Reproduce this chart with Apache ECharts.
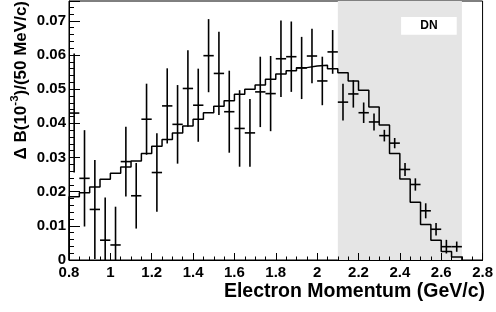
<!DOCTYPE html>
<html>
<head>
<meta charset="utf-8">
<script src="https://cdn.jsdelivr.net/npm/echarts@6/dist/echarts.min.js"></script>
<style>
  html, body { margin: 0; padding: 0; background: #fff; }
  #chart { width: 496px; height: 312px; }
</style>
</head>
<body>
<div id="chart"></div>
<script>
// bin centres, 50 MeV/c bins
const momentum = [0.825, 0.875, 0.925, 0.975, 1.025, 1.075, 1.125, 1.175, 1.225, 1.275,
  1.325, 1.375, 1.425, 1.475, 1.525, 1.575, 1.625, 1.675, 1.725, 1.775,
  1.825, 1.875, 1.925, 1.975, 2.025, 2.075, 2.125, 2.175, 2.225, 2.275,
  2.325, 2.375, 2.425, 2.475, 2.525, 2.575, 2.625, 2.675];
// measured points and errors
const dataVal = [0.043, 0.0239, 0.0148, 0.0058, 0.0044, 0.0288, 0.0188, 0.0412, 0.0256, 0.0451,
  0.0397, 0.0502, 0.0453, 0.0598, 0.0546, 0.0434, 0.0385, 0.0372, 0.0492, 0.0487,
  0.0589, 0.0595, 0.0562, 0.0597, 0.0524, 0.0609, 0.0462, 0.0486, 0.0431, 0.0404,
  0.0364, 0.0342, 0.0265, 0.0221, 0.0144, 0.009, 0.0039, 0.0039];
const dataErr = [0.0174, 0.0141, 0.0145, 0.0125, 0.0112, 0.0102, 0.0096, 0.0104, 0.0115, 0.011,
  0.0115, 0.0112, 0.0107, 0.0107, 0.0122, 0.012, 0.0112, 0.0099, 0.0103, 0.011,
  0.0112, 0.0103, 0.0091, 0.008, 0.0071, 0.0064, 0.0054, 0.004, 0.003, 0.0025,
  0.0017, 0.0015, 0.0019, 0.0018, 0.0022, 0.0018, 0.002, 0.0015];
// histogram (model)
const histVal = [0.0185, 0.0197, 0.0214, 0.0236, 0.0254, 0.0272, 0.029, 0.0312, 0.0333, 0.0353,
  0.0372, 0.0392, 0.0412, 0.0431, 0.045, 0.0466, 0.0485, 0.05, 0.0512, 0.0529,
  0.0544, 0.0554, 0.0563, 0.0568, 0.057, 0.056, 0.0548, 0.0524, 0.0497, 0.0448,
  0.0395, 0.0312, 0.0237, 0.0169, 0.0104, 0.0058, 0.0025, 0.0009];
const shadeRange = [2.1, 2.7];
const boxLabel = 'DN';
const boxCorners = [[2.406, 0.0711], [2.675, 0.0659]];

const halfBin = 0.025;
const font = '"Liberation Sans", Arial, Helvetica, sans-serif';

let histData = [[momentum[0] - halfBin, 0]];
momentum.forEach((c, i) => histData.push([c - halfBin, histVal[i]]));
histData.push([momentum[momentum.length - 1] + halfBin, histVal[histVal.length - 1]]);
histData.push([momentum[momentum.length - 1] + halfBin, 0]);

const pointData = momentum.map((c, i) => [c, dataVal[i], dataErr[i]]);

const myChart = echarts.init(document.getElementById('chart'));
const option = {
  animation: false,
  backgroundColor: '#fff',
  grid: {
    left: 69, right: 10, top: 1, bottom: 52,
    show: true, borderColor: '#000', borderWidth: 1, backgroundColor: 'transparent'
  },
  xAxis: {
    type: 'value', min: 0.8, max: 2.8, interval: 0.2, z: 5,
    axisLine: { lineStyle: { color: '#000', width: 1 } },
    axisTick: { inside: true, length: 7, lineStyle: { color: '#000' } },
    minorTick: { show: true, splitNumber: 4, length: 3.5, lineStyle: { color: '#000' } },
    splitLine: { show: false },
    axisLabel: { margin: 5, color: '#000', fontWeight: 'bold', fontSize: 15, fontFamily: font }
  },
  yAxis: {
    type: 'value', min: 0, max: 0.0758, interval: 0.01, z: 5,
    axisLine: { show: true, lineStyle: { color: '#000', width: 1 } },
    axisTick: { show: true, inside: true, length: 11, lineStyle: { color: '#000' } },
    minorTick: { show: true, splitNumber: 5, length: 5, lineStyle: { color: '#000' } },
    splitLine: { show: false },
    axisLabel: { margin: 3, color: '#000', fontWeight: 'bold', fontSize: 15, fontFamily: font, showMaxLabel: false }
  },
  graphic: [
    {
      type: 'text', x: 485, y: 292, z: 10,
      style: {
        text: 'Electron Momentum (GeV/c)', align: 'right', verticalAlign: 'middle',
        fill: '#000', font: 'bold 19.5px ' + font
      }
    },
    {
      type: 'text', x: 19, y: 1, rotation: Math.PI / 2, z: 10,
      style: {
        text: '{a|Δ B(10}{s|-3}{a|)/(50 MeV/c)}', align: 'right', verticalAlign: 'middle',
        fill: '#000',
        rich: {
          a: { fontSize: 17, fontWeight: 'bold', fontFamily: font, lineHeight: 21, verticalAlign: 'bottom' },
          s: { fontSize: 11.5, fontWeight: 'bold', fontFamily: font, lineHeight: 21, verticalAlign: 'top' }
        }
      }
    }
  ],
  series: [
    {
      type: 'line', data: [], z: 1, silent: true,
      markArea: {
        silent: true,
        data: [
          [{ xAxis: shadeRange[0], yAxis: 0, itemStyle: { color: '#e5e5e5' } },
           { xAxis: shadeRange[1], yAxis: 0.0758 }],
          [{ coord: boxCorners[0], itemStyle: { color: '#fff' },
             label: { show: true, position: 'inside', formatter: boxLabel, color: '#000',
                      fontWeight: 'bold', fontSize: 12, fontFamily: font } },
           { coord: boxCorners[1] }]
        ]
      }
    },
    {
      type: 'line', data: histData, step: 'end', z: 3, symbol: 'none',
      lineStyle: { color: '#000', width: 1.5 }
    },
    {
      type: 'custom', data: pointData, z: 4, clip: true,
      renderItem: function (params, api) {
        const x = api.value(0), y = api.value(1), e = api.value(2);
        const l = api.coord([x - halfBin, y]);
        const r = api.coord([x + halfBin, y]);
        const t = api.coord([x, y + e]);
        const b = api.coord([x, y - e]);
        const st = { stroke: '#000', lineWidth: 1.6 };
        return {
          type: 'group',
          children: [
            { type: 'line', shape: { x1: l[0], y1: l[1], x2: r[0], y2: r[1] }, style: st },
            { type: 'line', shape: { x1: t[0], y1: t[1], x2: b[0], y2: b[1] }, style: st }
          ]
        };
      }
    }
  ]
};
myChart.setOption(option);
</script>
</body>
</html>
